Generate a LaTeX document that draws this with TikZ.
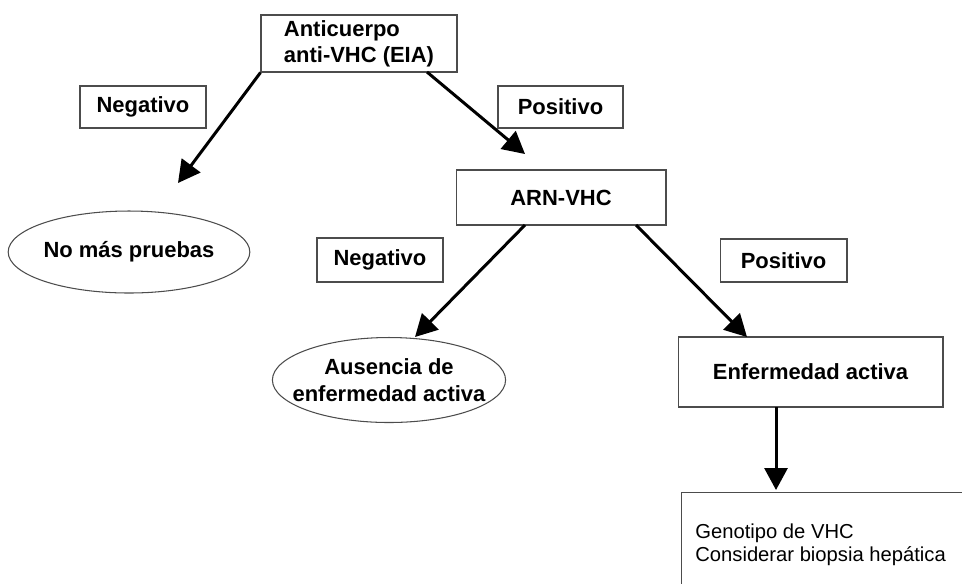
\documentclass[tikz,border=0pt]{standalone}
\usepackage{fontspec}
\setmainfont{Liberation Sans}
\usetikzlibrary{arrows.meta,shapes.geometric}

\begin{document}
\begin{tikzpicture}[x=0.02cm, y=-0.02cm,
	every node/.style={font=\fontsize{12.5}{15}\selectfont\bfseries, inner sep=0pt},
	box/.style={draw=black!70, line width=0.6pt, rectangle},
	oval/.style={draw=black!70, line width=0.6pt, ellipse},
	flow/.style={-{Triangle[length=0.44cm, width=0.46cm]}, line width=1.7pt}]
	\useasboundingbox (0,0) rectangle (962,583);
	\clip (0,0) rectangle (962,583);
	% first test
	\node[box, minimum width=3.92cm, minimum height=1.14cm, align=left] (eia) at (359,43.5) {Anticuerpo\\anti-VHC (EIA)};
	\node[box, minimum width=2.52cm, minimum height=0.84cm] (neg1) at (143,107) {Negativo};
	\node[box, minimum width=2.5cm, minimum height=0.84cm] (pos1) at (560.5,107) {Positivo};
	\node[oval, minimum width=4.76cm, minimum height=1.64cm] (nomas) at (129,252) {No más pruebas};
	% second test
	\node[box, minimum width=4.2cm, minimum height=1.1cm] (arn) at (561,197.5) {ARN-VHC};
	\node[box, minimum width=2.52cm, minimum height=0.88cm] (neg2) at (380,260) {Negativo};
	\node[box, minimum width=2.54cm, minimum height=0.86cm] (pos2) at (783.5,260.5) {Positivo};
	\node[oval, inner xsep=-0.28cm, minimum width=4.64cm, minimum height=1.7cm, align=center] (aus) at (389,380) {Ausencia de\\enfermedad activa};
	\node[box, minimum width=5.3cm, minimum height=1.4cm] (enf) at (810.5,372) {Enfermedad activa};
	% what follows, running off the page
	\node[box, anchor=north west, minimum width=9cm, minimum height=3cm] (geno) at (681,492) {};
	\node[anchor=base west, align=left, font=\fontsize{11.5}{13}\selectfont] (genotxt) at (695,561) {Genotipo de VHC\\Considerar biopsia hepática};
	% arrows
	\coordinate (s2) at (427,72);
	\coordinate (s3) at (525,225);
	\coordinate (s4) at (636,225);
	\coordinate (s5) at (776,407);
	\coordinate (t1) at (178,183);
	\coordinate (t2) at (525,154);
	\coordinate (t3) at (415,337);
	\coordinate (t4) at (747,337);
	\coordinate (t5) at (776,490);
	\draw[flow] (eia.south west) -- (t1);
	\draw[flow] (s2) -- (t2);
	\draw[flow] (s3) -- (t3);
	\draw[flow] (s4) -- (t4);
	\draw[flow] (s5) -- (t5);
\end{tikzpicture}
\end{document}
